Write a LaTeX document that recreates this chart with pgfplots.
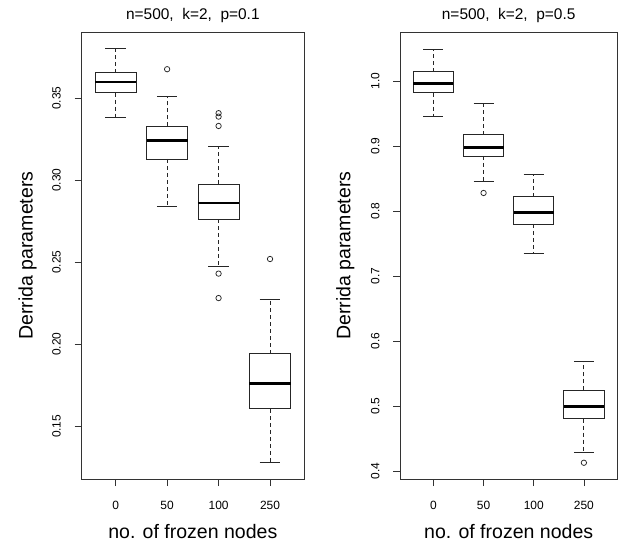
\documentclass[border=0pt]{standalone}
\usepackage{fontspec}
\setmainfont{Liberation Sans}
\usepackage{pgfplots}
\pgfplotsset{compat=1.18}
\usepgfplotslibrary{statistics}

\pgfplotsset{
  rbox/.style={
    black!85, line width=0.8bp, solid,
    boxplot/draw direction=y,
    boxplot/box extend=0.8,
    boxplot/whisker extend=0.4,
    boxplot/every median/.style={black, line width=2.5bp},
    boxplot/draw/lower whisker/.code={%
      \draw[dash pattern=on 4bp off 3bp]
        (boxplot cs:\pgfplotsboxplotvalue{lower quartile}) --
        (boxplot cs:\pgfplotsboxplotvalue{lower whisker});
      \draw[solid]
        (boxplot whisker cs:\pgfplotsboxplotvalue{lower whisker},0) --
        (boxplot whisker cs:\pgfplotsboxplotvalue{lower whisker},1);
    },
    boxplot/draw/upper whisker/.code={%
      \draw[dash pattern=on 4bp off 3bp]
        (boxplot cs:\pgfplotsboxplotvalue{upper quartile}) --
        (boxplot cs:\pgfplotsboxplotvalue{upper whisker});
      \draw[solid]
        (boxplot whisker cs:\pgfplotsboxplotvalue{upper whisker},0) --
        (boxplot whisker cs:\pgfplotsboxplotvalue{upper whisker},1);
    },
  },
  outl/.style={only marks, black!85, mark=o, mark size=2.7bp, mark options={line width=0.75bp}},
  derrida/.style={
    scale only axis, height=446.7bp,
    xmin=0.34, xmax=4.66,
    xtick={1,2,3,4}, xticklabels={0,50,100,250},
    tick pos=left, tick align=outside, major tick length=7bp,
    every tick/.style={black!80, line width=0.75bp},
    axis line style={black!80, line width=0.75bp},
    /pgf/number format/assume math mode=true,
    ticklabel style={font=\fontsize{12}{14}\selectfont},
    xticklabel style={anchor=base},
    xticklabel shift=23bp,
    yticklabel style={rotate=90, anchor=base},
    yticklabel shift=14bp,
    title style={font=\fontsize{15.5}{18}\selectfont, at={(axis description cs:0.5,1)}, anchor=base, yshift=7bp},
    label style={font=\fontsize{19.6}{22}\selectfont},
    xlabel={no. of frozen nodes},
    ylabel={Derrida parameters},
    xlabel style={at={(axis description cs:0.5,-0.1321)}, anchor=base},
  },
}

\begin{document}
\begin{tikzpicture}
\useasboundingbox (0,0) rectangle (626bp,544bp);

% left panel: p = 0.1
\begin{axis}[derrida,
    at={(81.7bp,65bp)}, anchor=south west, width=222.3bp,
    ymin=0.1179, ymax=0.3902,
    ytick={0.15,0.20,0.25,0.30,0.35},
    yticklabel style={/pgf/number format/.cd, fixed, fixed zerofill, precision=2},
    ylabel style={at={(axis description cs:-0.2204,0.5)}, anchor=base},
    title={n=500,\ \ k=2,\ \ p=0.1}]
\addplot[rbox, boxplot prepared={draw position=1, lower whisker=0.3386, lower quartile=0.3534, median=0.3598, upper quartile=0.3656, upper whisker=0.3801}] coordinates {};
\addplot[rbox, boxplot prepared={draw position=2, lower whisker=0.2841, lower quartile=0.3130, median=0.3241, upper quartile=0.3329, upper whisker=0.3514}] coordinates {};
\addplot[rbox, boxplot prepared={draw position=3, lower whisker=0.2473, lower quartile=0.2762, median=0.2862, upper quartile=0.2976, upper whisker=0.3205}] coordinates {};
\addplot[rbox, boxplot prepared={draw position=4, lower whisker=0.1278, lower quartile=0.1607, median=0.1760, upper quartile=0.1943, upper whisker=0.2274}] coordinates {};
\addplot[outl] coordinates {(2,0.3677) (3,0.3409) (3,0.3388) (3,0.3331) (3,0.2431) (3,0.2282) (4,0.2520)};
\end{axis}

% right panel: p = 0.5
\begin{axis}[derrida,
    at={(400.3bp,65bp)}, anchor=south west, width=216.7bp,
    ymin=0.3882, ymax=1.0754,
    ytick={0.4,0.5,0.6,0.7,0.8,0.9,1.0},
    yticklabel style={/pgf/number format/.cd, fixed, fixed zerofill, precision=1},
    ylabel style={at={(axis description cs:-0.2307,0.5)}, anchor=base},
    title={n=500,\ \ k=2,\ \ p=0.5}]
\addplot[rbox, boxplot prepared={draw position=1, lower whisker=0.9466, lower quartile=0.9825, median=0.9963, upper quartile=1.0148, upper whisker=1.0492}] coordinates {};
\addplot[rbox, boxplot prepared={draw position=2, lower whisker=0.8462, lower quartile=0.8851, median=0.8978, upper quartile=0.9178, upper whisker=0.9662}] coordinates {};
\addplot[rbox, boxplot prepared={draw position=3, lower whisker=0.7354, lower quartile=0.7805, median=0.7978, upper quartile=0.8225, upper whisker=0.8563}] coordinates {};
\addplot[rbox, boxplot prepared={draw position=4, lower whisker=0.4292, lower quartile=0.4809, median=0.5000, upper quartile=0.5246, upper whisker=0.5692}] coordinates {};
\addplot[outl] coordinates {(2,0.8282) (4,0.4132)};
\end{axis}
\end{tikzpicture}
\end{document}
